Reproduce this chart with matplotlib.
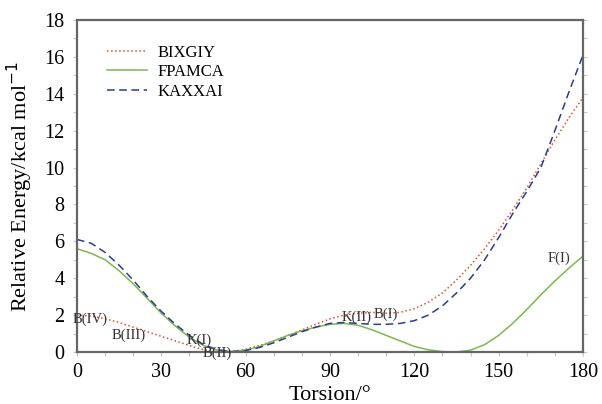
import numpy as np
import matplotlib
matplotlib.use("Agg")
import matplotlib.pyplot as plt
from matplotlib.ticker import MultipleLocator

torsion = np.arange(0, 181, 5)

bixgiy = [2.0, 1.95, 1.8, 1.6, 1.35, 1.1, 0.85, 0.6, 0.35, 0.12, 0.02, 0.02,
          0.15, 0.35, 0.6, 0.9, 1.2, 1.5, 1.8, 2.0, 2.1, 2.15, 2.1, 2.15,
          2.35, 2.7, 3.2, 3.9, 4.7, 5.6, 6.6, 7.7, 8.9, 10.2, 11.5, 12.7, 13.8]
fpamca = [5.6, 5.35, 5.0, 4.4, 3.7, 2.9, 2.1, 1.4, 0.8, 0.35, 0.1, 0.02,
          0.1, 0.3, 0.6, 0.9, 1.15, 1.35, 1.5, 1.55, 1.45, 1.2, 0.9, 0.6,
          0.3, 0.12, 0.02, 0.0, 0.1, 0.4, 0.9, 1.55, 2.3, 3.1, 3.85, 4.55, 5.2]
kaxxai = [6.1, 5.9, 5.4, 4.7, 3.9, 3.0, 2.2, 1.5, 0.9, 0.4, 0.12, 0.02,
          0.08, 0.25, 0.5, 0.8, 1.1, 1.35, 1.55, 1.6, 1.55, 1.5, 1.5, 1.55,
          1.7, 2.0, 2.5, 3.2, 4.0, 5.0, 6.2, 7.5, 8.7, 10.0, 12.0, 14.1, 16.1]

# conformer labels: text, x, y
labels = ["B(IV)", "B(III)", "K(I)", "B(II)", "K(II)", "B(I)", "F(I)"]
label_x = [4.5, 18.5, 43.5, 50, 99.5, 110, 171.5]
label_y = [1.75, 0.9, 0.65, -0.05, 1.9, 2.05, 5.1]

plt.rcParams['font.family'] = ['Liberation Serif', 'DejaVu Serif']

fig = plt.figure(figsize=(6.02, 4.04), dpi=100)
ax = fig.add_axes([77 / 602, 52 / 404, 506 / 602, 332 / 404])

ax.plot(torsion, bixgiy, ':', color='#e0502a', lw=1.1, label='BIXGIY')
ax.plot(torsion, fpamca, '-', color='#7cb850', lw=1.1, label='FPAMCA')
ax.plot(torsion, kaxxai, '--', color='#2c3c8c', lw=1.1, label='KAXXAI',
        dashes=(5, 3))

for t, x, y in zip(labels, label_x, label_y):
    ax.text(x, y, t, fontsize=10.5, ha='center', va='center', color='#333333')

ax.set_xlim(0, 180)
ax.set_ylim(0, 18)
ax.xaxis.set_major_locator(MultipleLocator(30))
ax.xaxis.set_minor_locator(MultipleLocator(10))
ax.yaxis.set_major_locator(MultipleLocator(2))
ax.yaxis.set_minor_locator(MultipleLocator(1))
ax.tick_params(which='both', direction='out', labelsize=14.5, color='#c8c8c8',
               right=True, width=0.8)
ax.tick_params(which='major', length=3)
ax.tick_params(axis='y', which='major', pad=6)
ax.tick_params(axis='x', which='major', pad=5)
ax.tick_params(which='minor', length=3)
for s in ax.spines.values():
    s.set_color('#666666')
    s.set_linewidth(1.6)

ax.set_xlabel('Torsion/°', fontsize=16, labelpad=3)
ax.set_ylabel('Relative Energy/kcal mol$^{-1}$', fontsize=16, labelpad=7)

ax.legend(loc='upper left', bbox_to_anchor=(0.03, 0.97), frameon=False,
          fontsize=12, handlelength=2.4, handletextpad=0.6, labelspacing=0.2)

fig.savefig('out.png', dpi=100)
